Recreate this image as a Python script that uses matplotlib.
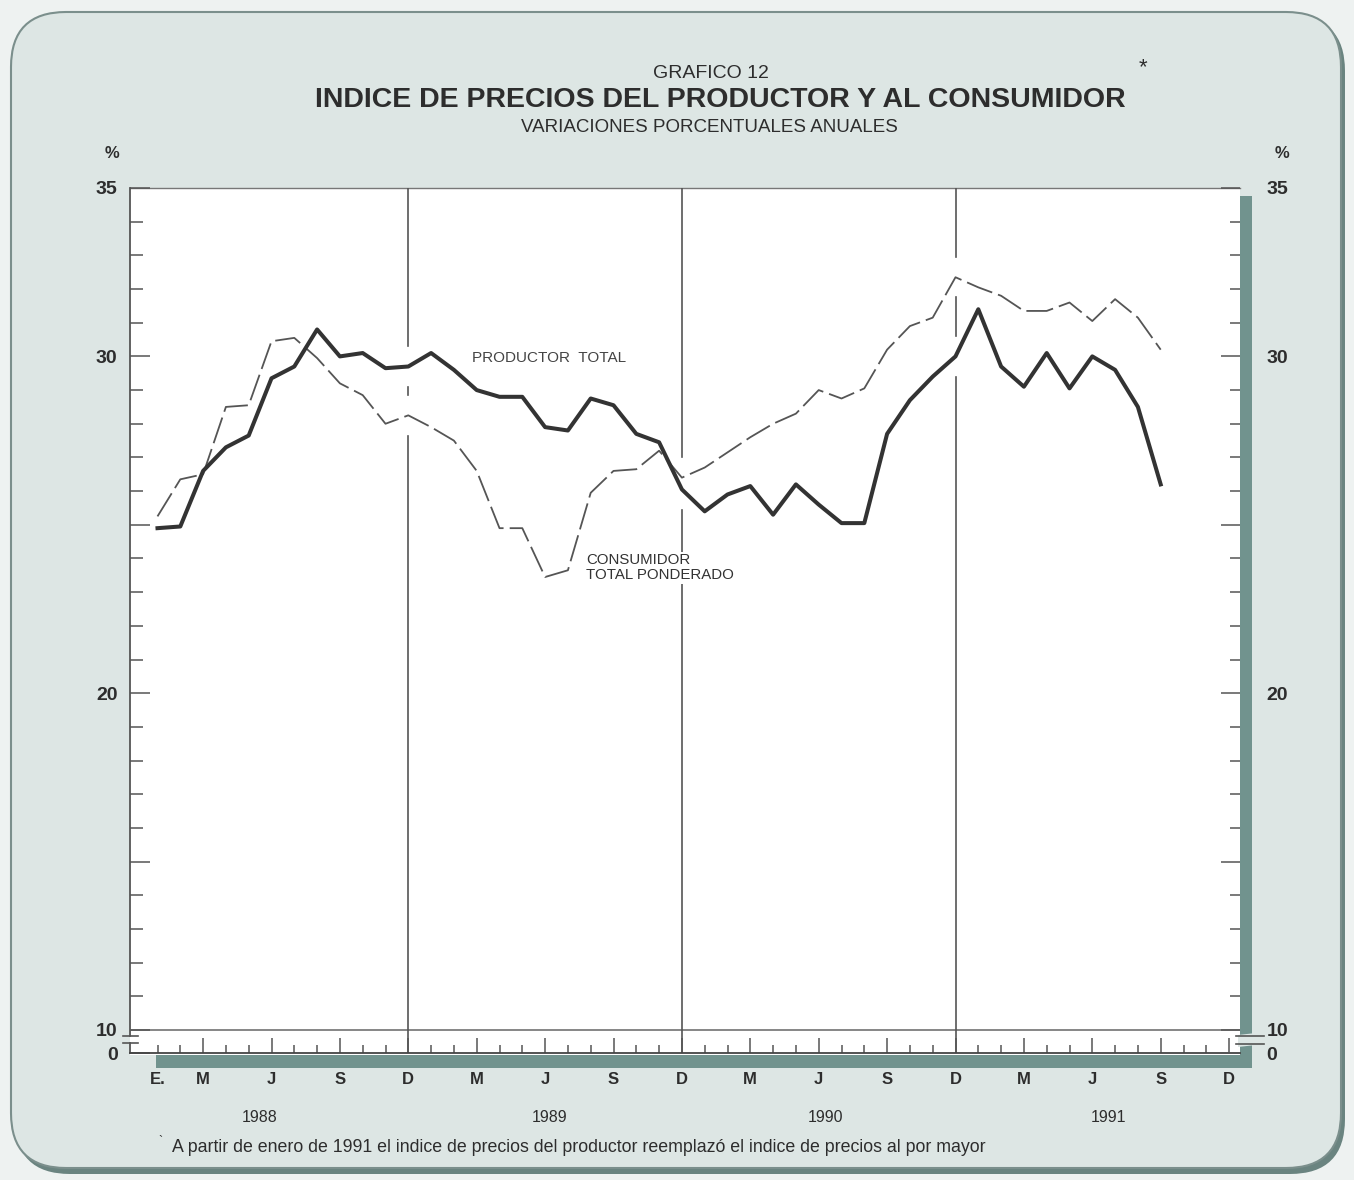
import matplotlib
matplotlib.use("Agg")
import matplotlib.pyplot as plt
from matplotlib.patches import FancyBboxPatch, Rectangle, Polygon
import numpy as np

# Annual % change, monthly, Jan 1988 .. Sep 1991
producer = [24.9, 24.95, 26.6, 27.3, 27.65, 29.35, 29.7, 30.8, 30.0, 30.1, 29.65, 29.7,
            30.1, 29.6, 29.0, 28.8, 28.8, 27.9, 27.8, 28.75, 28.55, 27.7, 27.45, 26.05,
            25.4, 25.9, 26.15, 25.3, 26.2, 25.6, 25.05, 25.05, 27.7, 28.7, 29.4, 30.0,
            31.4, 29.7, 29.1, 30.1, 29.05, 30.0, 29.6, 28.5, 26.2]
consumer = [25.25, 26.35, 26.5, 28.5, 28.55, 30.45, 30.55, 29.95, 29.2, 28.85, 28.0, 28.25,
            27.9, 27.5, 26.6, 24.9, 24.9, 23.45, 23.65, 25.95, 26.6, 26.65, 27.2, 26.4,
            26.7, 27.15, 27.6, 28.0, 28.3, 29.0, 28.75, 29.05, 30.2, 30.9, 31.15, 32.35,
            32.05, 31.8, 31.35, 31.35, 31.6, 31.05, 31.7, 31.15, 30.2]
months = np.arange(len(producer))

month_labels = ["E."] + ["M", "J", "S", "D"] * 4
month_label_idx = [0] + [2 + 3 * k for k in range(16)]
years = ["1988", "1989", "1990", "1991"]
year_label_pos = [4.5, 17.2, 29.3, 41.7]
december_idx = [11, 23, 35]
y_major = [10, 15, 20, 25, 30, 35]
y_major_labels = ["10", "", "20", "", "30", "35"]

W, H = 1354, 1180
PAGE = "#dde6e4"
TEAL = "#71938e"
INK = "#2d2d2d"
LINE = "#555555"
SANS = ["Liberation Sans", "DejaVu Sans"]

# pixel geometry of the plot box
PX_LEFT, PX_RIGHT, PX_TOP, PX_AXIS, PX_TEN = 130, 1240, 188, 1053, 1030
PX_UNIT = (PX_TEN - PX_TOP) / 25.0
PX_MONTH, PX_JAN = 22.8, 157.5
Y0 = 35 - (PX_AXIS - PX_TOP) / PX_UNIT
X0 = -(PX_JAN - PX_LEFT) / PX_MONTH
X1 = (PX_RIGHT - PX_JAN) / PX_MONTH

fig = plt.figure(figsize=(W / 100, H / 100), dpi=100)
fig.patch.set_facecolor("#eef2f1")

bg = fig.add_axes([0, 0, 1, 1])
bg.set_xlim(0, W)
bg.set_ylim(H, 0)
bg.axis("off")

bg.add_patch(FancyBboxPatch((15, 16), 1330, 1158, boxstyle="round,pad=0,rounding_size=55",
                            fc="#6a8480", ec="none"))
bg.add_patch(FancyBboxPatch((11, 12), 1330, 1156, boxstyle="round,pad=0,rounding_size=55",
                            fc=PAGE, ec="#7b8f8c", lw=1.5))

# plot box with its teal drop shadow
bg.add_patch(Rectangle((156, 1055), 1096, 13, fc=TEAL, ec="none"))
bg.add_patch(Rectangle((PX_RIGHT, 196), 12, 872, fc=TEAL, ec="none"))
bg.add_patch(Rectangle((PX_LEFT, PX_TOP), PX_RIGHT - PX_LEFT, 1055 - PX_TOP, fc="white", ec="none"))
bg.plot([PX_LEFT, PX_RIGHT], [PX_TOP, PX_TOP], color="#777777", lw=1)

# left axis with break between 10 and 0
bg.plot([PX_LEFT, PX_LEFT], [PX_TOP, 1036], color=LINE, lw=1.3)
bg.plot([PX_LEFT, PX_LEFT], [1043, PX_AXIS], color=LINE, lw=1.3)
for yy in (1036, 1043):
    bg.plot([123, 138], [yy, yy], color=LINE, lw=1.2)
# right side break through the shadow
bg.add_patch(Polygon([[1238, 1035], [1256, 1033], [1256, 1045], [1238, 1047]], fc=PAGE, ec="none"))
for yy in (1036, 1044):
    bg.plot([1236, 1264], [yy, yy], color=LINE, lw=1.2)

# titles
bg.text(711, 73, "GRAFICO 12", ha="center", va="center", fontsize=14, color=INK, family=SANS)
bg.text(720, 100, "INDICE DE PRECIOS DEL PRODUCTOR Y AL CONSUMIDOR", ha="center", va="center",
        fontsize=20.5, fontweight="bold", color=INK, family=SANS)
bg.text(1143, 68, "*", ha="center", va="center", fontsize=16, color=INK, family=SANS)
bg.text(709, 127, "VARIACIONES PORCENTUALES ANUALES", ha="center", va="center",
        fontsize=13.5, color=INK, family=SANS)
for xx in (112, 1282):
    bg.text(xx, 153, "%", ha="center", va="center", fontsize=12, fontweight="bold",
            color=INK, family=SANS)
bg.text(160, 1142, "`", ha="center", va="center", fontsize=9, color=INK, family=SANS)
bg.text(172, 1148, "A partir de enero de 1991 el indice de precios del productor reemplazó "
        "el indice de precios al por mayor", ha="left", va="center", fontsize=12.8,
        color=INK, family=SANS)

# data axes
ax = fig.add_axes([PX_LEFT / W, 1 - PX_AXIS / H, (PX_RIGHT - PX_LEFT) / W, (PX_AXIS - PX_TOP) / H])
ax.patch.set_alpha(0)
ax.set_xlim(X0, X1)
ax.set_ylim(Y0, 35)
for side in ("left", "right", "top"):
    ax.spines[side].set_visible(False)
ax.spines["bottom"].set_color("#444444")
ax.spines["bottom"].set_linewidth(1.3)

ax.set_xticks(np.arange(2, 48, 3))
ax.set_xticks(np.arange(0, 48), minor=True)
ax.set_xticklabels([])
ax.tick_params(axis="x", which="major", direction="in", length=11, width=1.1, color=LINE)
ax.tick_params(axis="x", which="minor", direction="in", length=5.5, width=1.1, color=LINE)

ax.set_yticks([Y0] + y_major)
ax.set_yticklabels(["0"] + y_major_labels)
ax.set_yticks([v for v in range(11, 35) if v % 5], minor=True)
ax.tick_params(axis="y", which="major", direction="in", length=14.5, width=1.1, color=LINE,
               pad=9, labelsize=14, labelcolor=INK)
ax.tick_params(axis="y", which="minor", direction="in", length=9.5, width=1.1, color=LINE)
for lab in ax.get_yticklabels():
    lab.set_fontweight("bold")
    lab.set_family(SANS)

ax2 = ax.twinx()
ax2.set_ylim(Y0, 35)
for side in ax2.spines:
    ax2.spines[side].set_visible(False)
ax2.set_yticks([Y0] + y_major)
ax2.set_yticklabels(["0"] + y_major_labels)
ax2.set_yticks([v for v in range(11, 35) if v % 5], minor=True)
ax2.tick_params(axis="y", which="major", direction="in", length=13.5, width=1.1, color=LINE,
                pad=19, labelsize=14, labelcolor=INK)
ax2.tick_params(axis="y", which="minor", direction="in", length=7.5, width=1.1, color=LINE)
for lab in ax2.get_yticklabels():
    lab.set_fontweight("bold")
    lab.set_family(SANS)

ax.axhline(10, color="#666666", lw=1.1, zorder=1)

# December separators, interrupted where the series cross them
for d in december_idx:
    gaps = sorted((v - 0.6, v + 0.6) for v in (producer[d], consumer[d]))
    start = Y0
    for lo, hi in gaps:
        if lo > start:
            ax.plot([d, d], [start, lo], color=LINE, lw=1.2, zorder=1)
        start = max(start, hi)
    ax.plot([d, d], [start, 35], color=LINE, lw=1.2, zorder=1)

ax.plot(months, consumer, color="#555555", lw=1.3, dashes=(15, 3.4), zorder=3)
ax.plot(months, producer, color="#333333", lw=2.9, zorder=4)

ax.text(13.8, 29.95, "PRODUCTOR  TOTAL", ha="left", va="center", fontsize=11,
        color="#444444", family=SANS, zorder=5)
ax.text(18.8, 23.72, "CONSUMIDOR\nTOTAL PONDERADO", ha="left", va="center", fontsize=10.8,
        color="#333333", family=SANS, linespacing=1.1, zorder=5,
        bbox=dict(fc="white", ec="none", pad=1))

for idx, lab in zip(month_label_idx, month_labels):
    ax.annotate(lab, xy=(idx, Y0), xytext=(0, -27), textcoords="offset pixels",
                ha="center", va="center", fontsize=12, fontweight="bold", color=INK,
                family=SANS, annotation_clip=False)
for pos, yr in zip(year_label_pos, years):
    ax.annotate(yr, xy=(pos, Y0), xytext=(0, -64), textcoords="offset pixels",
                ha="center", va="center", fontsize=11.5, color=INK, family=SANS,
                annotation_clip=False)

fig.savefig("out.png", dpi=100, facecolor=fig.get_facecolor())
